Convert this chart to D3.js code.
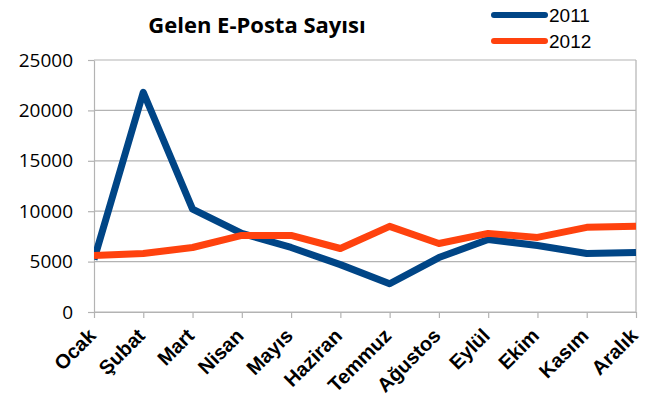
<!DOCTYPE html>
<html>
<head>
<meta charset="utf-8">
<script src="https://cdn.jsdelivr.net/npm/d3@7"></script>
<style>
  html, body { margin: 0; padding: 0; background: #fff; }
  svg { display: block; }
</style>
</head>
<body>
<svg id="chart" width="648" height="398"></svg>
<script>
// Monthly incoming e-mail counts
const months = ["Ocak", "Şubat", "Mart", "Nisan", "Mayıs", "Haziran", "Temmuz", "Ağustos", "Eylül", "Ekim", "Kasım", "Aralık"];
const values2011 = [5200, 21800, 10200, 7800, 6400, 4700, 2800, 5400, 7200, 6600, 5800, 5900];
const values2012 = [5600, 5800, 6400, 7600, 7600, 6300, 8500, 6800, 7800, 7400, 8400, 8500];
const yTicks = [0, 5000, 10000, 15000, 20000, 25000];
const seriesNames = ["2011", "2012"];
const seriesColors = ["#004586", "#ff420e"];
const title = "Gelen E-Posta Sayısı";

const svg = d3.select("#chart");
const plot = { left: 94, right: 636, top: 60, bottom: 312 };

const x = d3.scalePoint().domain(months).range([plot.left, plot.right]);
const y = d3.scaleLinear().domain([0, 25000]).range([plot.bottom, plot.top]);

const gridColor = "#b3b3b3";

// horizontal grid lines
svg.append("g")
  .selectAll("line")
  .data(yTicks)
  .join("line")
  .attr("x1", plot.left).attr("x2", plot.right)
  .attr("y1", d => y(d)).attr("y2", d => y(d))
  .attr("stroke", gridColor).attr("stroke-width", 1.2);

// right frame edge
svg.append("line")
  .attr("x1", plot.right).attr("x2", plot.right)
  .attr("y1", plot.top).attr("y2", plot.bottom)
  .attr("stroke", gridColor).attr("stroke-width", 1.2);

// y axis
const yAxis = svg.append("g")
  .attr("transform", `translate(${plot.left},0)`)
  .call(d3.axisLeft(y).tickValues(yTicks).tickFormat(d3.format("d")).tickSizeInner(6).tickSizeOuter(0).tickPadding(15));
yAxis.select(".domain").attr("stroke", gridColor).attr("stroke-width", 1.2);
yAxis.selectAll(".tick line").attr("stroke", gridColor).attr("stroke-width", 1.2);
yAxis.selectAll("text")
  .attr("font-family", "'Open Sans', sans-serif")
  .attr("font-size", 19)
  .attr("fill", "#000");

// x axis
const xAxis = svg.append("g")
  .attr("transform", `translate(0,${plot.bottom})`)
  .call(d3.axisBottom(x).tickSizeInner(6).tickSizeOuter(0));
xAxis.select(".domain").attr("stroke", gridColor).attr("stroke-width", 1.2);
xAxis.selectAll(".tick line").attr("stroke", gridColor).attr("stroke-width", 1.2);
xAxis.selectAll("text").remove();

// rotated month labels
svg.append("g")
  .selectAll("text")
  .data(months)
  .join("text")
  .attr("transform", d => `translate(${x(d) + 3},${plot.bottom + 25}) rotate(-45)`)
  .attr("text-anchor", "end")
  .attr("font-family", "'Liberation Sans', Arial, sans-serif")
  .attr("font-weight", "bold")
  .attr("font-size", 20)
  .attr("fill", "#000")
  .text(d => d);

// series lines
const line = d3.line()
  .x((d, i) => x(months[i]))
  .y(d => y(d));

svg.append("defs").append("clipPath").attr("id", "plotClip")
  .append("rect")
  .attr("x", plot.left).attr("y", 0)
  .attr("width", plot.right - plot.left).attr("height", 398);

[values2011, values2012].forEach((vals, k) => {
  svg.append("path")
    .datum(vals)
    .attr("clip-path", "url(#plotClip)")
    .attr("d", line)
    .attr("fill", "none")
    .attr("stroke", seriesColors[k])
    .attr("stroke-width", 7)
    .attr("stroke-linejoin", "round")
    .attr("stroke-linecap", "butt");
});

// title
svg.append("text")
  .attr("x", 257).attr("y", 33)
  .attr("text-anchor", "middle")
  .attr("font-family", "'Open Sans', sans-serif")
  .attr("font-weight", "bold")
  .attr("font-size", 22)
  .attr("fill", "#000")
  .text(title);

// legend
const legend = svg.append("g");
seriesNames.forEach((name, k) => {
  const ly = 15 + k * 26;
  legend.append("line")
    .attr("x1", 494).attr("x2", 545)
    .attr("y1", ly).attr("y2", ly)
    .attr("stroke", seriesColors[k])
    .attr("stroke-width", 6)
    .attr("stroke-linecap", "round");
  legend.append("text")
    .attr("x", 549).attr("y", ly + 7)
    .attr("font-family", "'Liberation Sans', Arial, sans-serif")
    .attr("font-size", 19)
    .attr("fill", "#000")
    .text(name);
});
</script>
</body>
</html>
